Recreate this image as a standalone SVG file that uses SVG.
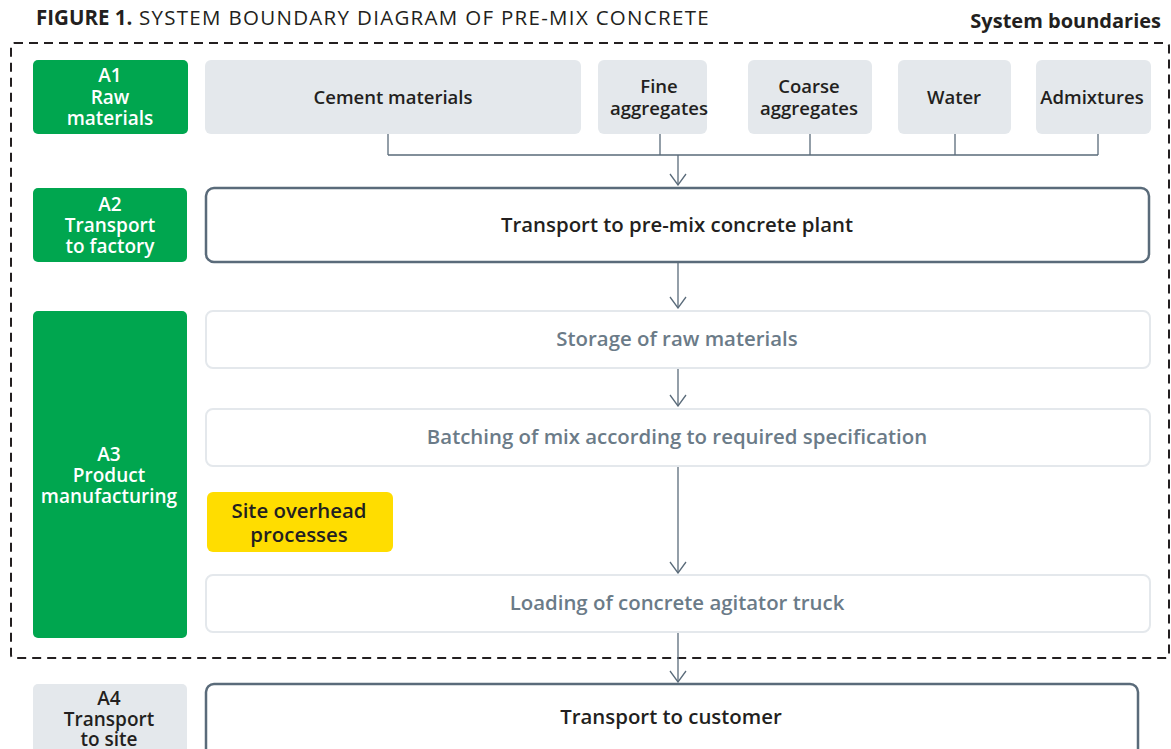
<svg xmlns="http://www.w3.org/2000/svg" width="1171" height="749" viewBox="0 0 1171 749">
<defs>
<style>
text{font-family:"Open Sans","Noto Sans",sans-serif;font-weight:600;font-size:18.5px;text-anchor:middle}
.g{fill:#00a64f}
.gt{fill:#ffffff;font-size:19px}
.lt{fill:#e4e8ec}
.dt{fill:#231f20}
.st{fill:#6b7b88}
.m{font-size:20.4px}
.wb{fill:#ffffff;stroke:#5a6b7a;stroke-width:2.5}
.pb{fill:#ffffff;stroke:#e4e8ec;stroke-width:2}
.cn{fill:none;stroke:#5a6b7a;stroke-width:1.3}
</style>
<marker id="arr" markerWidth="14" markerHeight="20" viewBox="-13 -10 14 20" refX="0" refY="0" orient="auto" markerUnits="userSpaceOnUse">
<path d="M-11,-8 L0,0 L-11,8" fill="none" stroke="#5a6b7a" stroke-width="1.3"/>
</marker>
</defs>
<rect width="1171" height="749" fill="#ffffff"/>
<g id="title">
<text x="36" y="25" style="text-anchor:start;font-size:20.5px;letter-spacing:1.3px" class="dt"><tspan font-weight="700" style="letter-spacing:0">FIGURE 1.</tspan><tspan font-weight="400"> SYSTEM BOUNDARY DIAGRAM OF PRE-MIX CONCRETE</tspan></text>
<text x="1161" y="28" style="text-anchor:end;font-size:20px;font-weight:700" class="dt">System boundaries</text>
</g>
<g id="boundary">
<rect x="11" y="43" width="1158" height="615" rx="3" fill="none" stroke="#231f20" stroke-width="2" stroke-dasharray="9,6"/>
</g>
<g id="connectors">
<path class="cn" d="M388,134 V155 M660,134 V155 M810,134 V155 M955,134 V155 M1098,134 V155 M388,155 H1098"/>
<line class="cn" x1="678" y1="155" x2="678" y2="185" marker-end="url(#arr)"/>
<line class="cn" x1="678" y1="263" x2="678" y2="308" marker-end="url(#arr)"/>
<line class="cn" x1="678" y1="369" x2="678" y2="406" marker-end="url(#arr)"/>
<line class="cn" x1="678" y1="467" x2="678" y2="573" marker-end="url(#arr)"/>
<line class="cn" x1="678" y1="633" x2="678" y2="682" marker-end="url(#arr)"/>
</g>
<g id="a1">
<rect class="g" x="33" y="60" width="155" height="74" rx="5"/>
<text class="gt" x="110" y="82"><tspan x="110">A1</tspan><tspan x="110" dy="21.5">Raw</tspan><tspan x="110" dy="21">materials</tspan></text>
</g>
<g id="cement">
<rect class="lt" x="205" y="60" width="376" height="74" rx="6"/>
<text class="dt" x="393" y="104">Cement materials</text>
</g>
<g id="fine">
<rect class="lt" x="598" y="60" width="109" height="74" rx="6"/>
<text class="dt" x="659" y="93"><tspan x="659">Fine</tspan><tspan x="659" dy="21.5">aggregates</tspan></text>
</g>
<g id="coarse">
<rect class="lt" x="748" y="60" width="124" height="74" rx="6"/>
<text class="dt" x="809" y="93"><tspan x="809">Coarse</tspan><tspan x="809" dy="21.5">aggregates</tspan></text>
</g>
<g id="water">
<rect class="lt" x="898" y="60" width="113" height="74" rx="6"/>
<text class="dt" x="954" y="104">Water</text>
</g>
<g id="admixtures">
<rect class="lt" x="1036" y="60" width="115" height="74" rx="6"/>
<text class="dt" x="1092" y="104">Admixtures</text>
</g>
<g id="a2">
<rect class="g" x="33" y="188" width="154" height="74" rx="5"/>
<text class="gt" x="110" y="211"><tspan x="110">A2</tspan><tspan x="110" dy="21">Transport</tspan><tspan x="110" dy="21">to factory</tspan></text>
</g>
<g id="transport-plant">
<rect class="wb" x="206" y="188" width="943" height="74" rx="8"/>
<text class="dt m" x="677" y="232">Transport to pre-mix concrete plant</text>
</g>
<g id="a3">
<rect class="g" x="33" y="311" width="154" height="327" rx="5"/>
<text class="gt" x="109" y="461"><tspan x="109">A3</tspan><tspan x="109" dy="21">Product</tspan><tspan x="109" dy="21">manufacturing</tspan></text>
</g>
<g id="storage">
<rect class="pb" x="206" y="311" width="944" height="57" rx="7"/>
<text class="st m" x="677" y="346">Storage of raw materials</text>
</g>
<g id="batching">
<rect class="pb" x="206" y="409" width="944" height="57" rx="7"/>
<text class="st m" x="677" y="444">Batching of mix according to required specification</text>
</g>
<g id="site-overhead">
<rect x="207" y="492" width="186" height="60" rx="6" fill="#ffdd00"/>
<text class="dt m" x="299" y="518"><tspan x="299">Site overhead</tspan><tspan x="299" dy="24">processes</tspan></text>
</g>
<g id="loading">
<rect class="pb" x="206" y="575" width="944" height="57" rx="7"/>
<text class="st m" x="677" y="610">Loading of concrete agitator truck</text>
</g>
<g id="a4">
<rect class="lt" x="33" y="684" width="154" height="75" rx="5"/>
<text class="dt" x="109" y="705" style="font-size:19px"><tspan x="109">A4</tspan><tspan x="109" dy="21">Transport</tspan><tspan x="109" dy="20">to site</tspan></text>
</g>
<g id="transport-customer">
<rect class="wb" x="206" y="684" width="932" height="80" rx="8"/>
<text class="dt m" x="671" y="724">Transport to customer</text>
</g>
</svg>
